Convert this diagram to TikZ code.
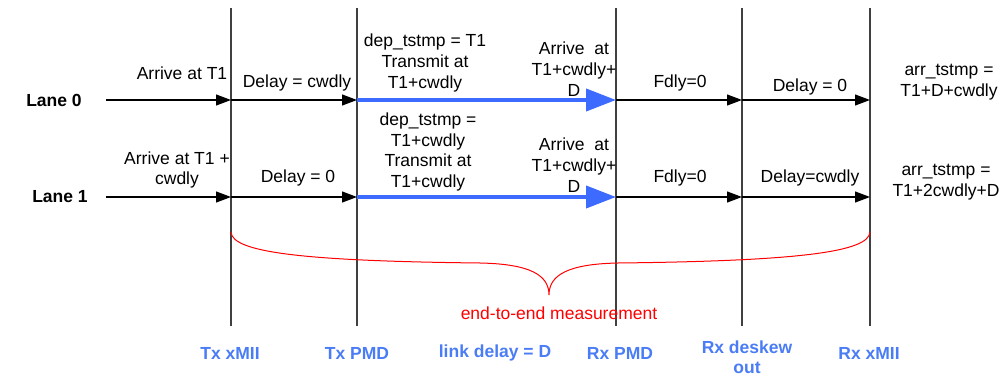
\documentclass[tikz,border=0pt]{standalone}
\usepackage{fontspec}
\setmainfont{Liberation Sans}
\usetikzlibrary{arrows.meta}
\definecolor{linkblue}{HTML}{3D6BFF}
\definecolor{labelblue}{HTML}{4A7CF5}
\definecolor{gridgray}{HTML}{404040}
\tikzset{
  txt/.style={align=center, inner sep=0pt, font=\fontsize{17.5}{20.8}\selectfont},
  lanelbl/.style={inner sep=0pt, font=\fontsize{17.5}{20.8}\selectfont\bfseries},
  stagelbl/.style={align=center, inner sep=0pt, text=labelblue, font=\fontsize{17.5}{20}\selectfont\bfseries},
  stageline/.style={gridgray, line width=1.2pt},
  hop/.style={black, line width=1.2pt, -{Triangle[length=15pt,width=11pt]}},
  linkhop/.style={linkblue, line width=4pt, -{Triangle[length=30pt,width=22pt]}},
  brace/.style={red, line width=1pt}
}
\begin{document}
\begin{tikzpicture}[x=1pt,y=-1pt]
\useasboundingbox (0,0) rectangle (1007,377);

% stage boundaries
\foreach \n/\x in {a/231,b/357,c/616,d/742,e/870}{
  \coordinate (\n top) at (\x,8);
  \coordinate (\n bot) at (\x,326);
  \coordinate (\n0) at (\x,100);
  \coordinate (\n1) at (\x,197);
  \draw[stageline] (\n top) -- (\n bot);
}

% lane labels and start points
\node[lanelbl] (lane0) at (54,100) {Lane 0};
\node[lanelbl] (lane1) at (60,197) {Lane 1};
\coordinate (s0) at (106,100);
\coordinate (s1) at (106,197);

% lane 0 hops
\draw[hop] (s0) -- (a0);
\draw[hop] (a0) -- (b0);
\draw[linkhop] (b0) -- (c0);
\draw[hop] (c0) -- (d0);
\draw[hop] (d0) -- (e0);

% lane 1 hops
\draw[hop] (s1) -- (a1);
\draw[hop] (a1) -- (b1);
\draw[linkhop] (b1) -- (c1);
\draw[hop] (c1) -- (d1);
\draw[hop] (d1) -- (e1);

% lane 0 annotations
\node[txt] (t0a) at (182,73) {Arrive at T1};
\node[txt] (t0b) at (297,83) {Delay = cwdly};
\node[txt] (t0c) at (425,63) {dep\_tstmp = T1\\Transmit at\\T1+cwdly};
\node[txt] (t0d) at (574,69) {Arrive\ \ at\\T1+cwdly+\\D};
\node[txt] (t0e) at (680,83) {Fdly=0};
\node[txt] (t0f) at (810,87) {Delay = 0};
\node[txt] (t0g) at (949,82) {arr\_tstmp =\\T1+D+cwdly};

% lane 1 annotations
\node[txt] (t1a) at (177,170) {Arrive at T1 +\\cwdly};
\node[txt] (t1b) at (298,178) {Delay = 0};
\node[txt] (t1c) at (428,152) {dep\_tstmp =\\T1+cwdly\\Transmit at\\T1+cwdly};
\node[txt] (t1d) at (574,165) {Arrive\ \ at\\T1+cwdly+\\D};
\node[txt] (t1e) at (680,178) {Fdly=0};
\node[txt] (t1f) at (810,178) {Delay=cwdly};
\node[txt] (t1g) at (946,182) {arr\_tstmp =\\T1+2cwdly+D};

% end-to-end brace
\coordinate (brL) at (231,232);
\coordinate (brR) at (870,232);
\coordinate (brTip) at (549,295);
\draw[brace] (brL) .. controls (232,252) and (300,261) .. (480,263)
  .. controls (530,264) and (549,275) .. (brTip)
  .. controls (549,275) and (568,264) .. (618,263)
  .. controls (798,261) and (869,252) .. (brR);
\node[txt, text=red] (e2e) at (559,313) {end-to-end measurement};

% stage names
\node[stagelbl] (sa) at (230,353) {Tx xMII};
\node[stagelbl] (sb) at (357,353) {Tx PMD};
\node[stagelbl] (sl) at (495,353) {link delay = D};
\node[stagelbl] (sc) at (620,353) {Rx PMD};
\node[stagelbl] (sd) at (747,357) {Rx deskew\\out};
\node[stagelbl] (se) at (869,353) {Rx xMII};
\end{tikzpicture}
\end{document}
